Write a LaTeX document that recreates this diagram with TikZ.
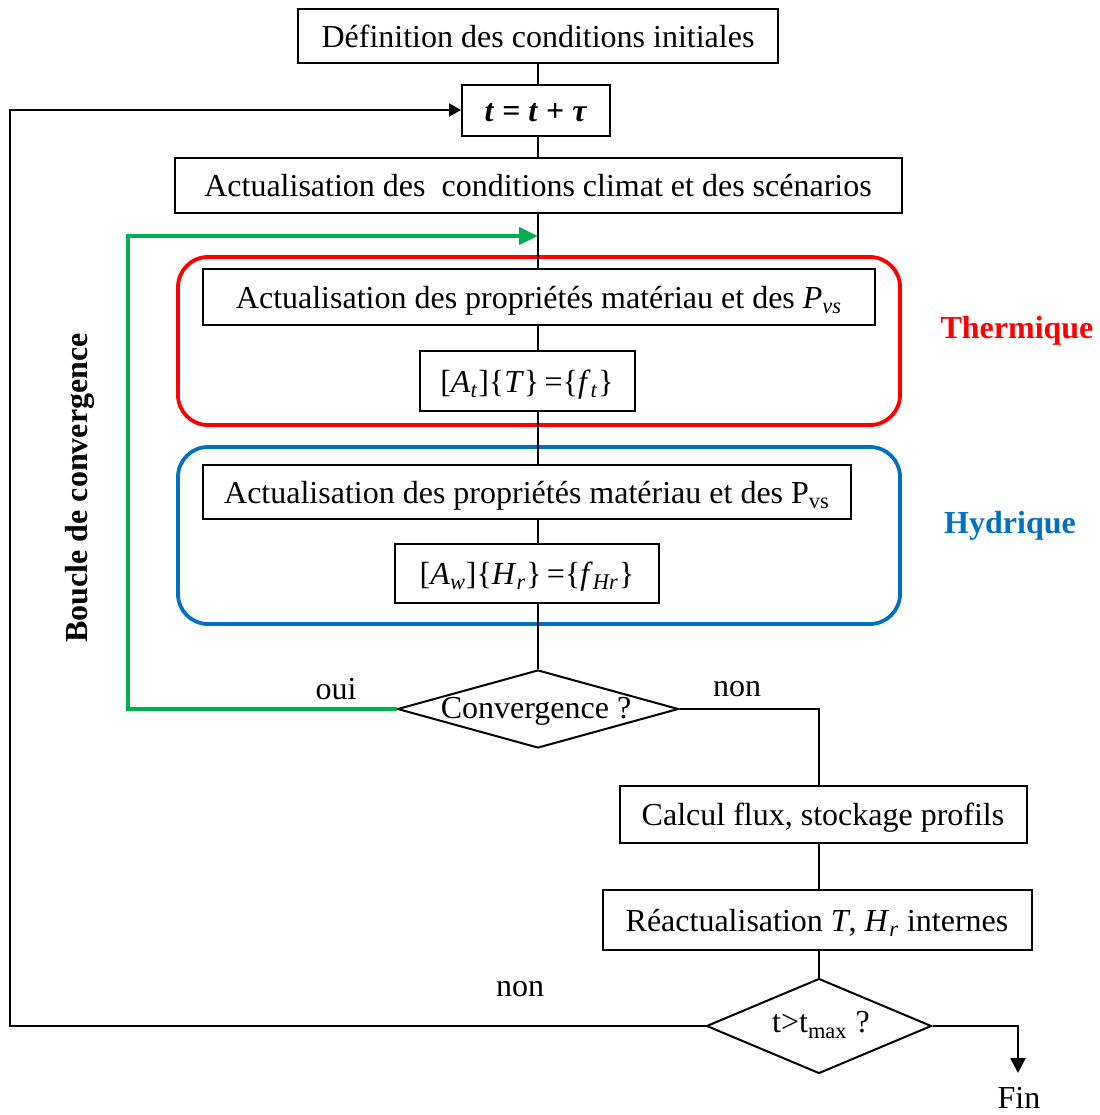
\documentclass[tikz,border=0pt]{standalone}
\usepackage{fontspec}
\setmainfont{Liberation Serif}
\usetikzlibrary{shapes.geometric,arrows.meta}
\definecolor{tred}{RGB}{255,0,0}
\definecolor{tblue}{RGB}{0,112,192}
\definecolor{tgreen}{RGB}{0,176,80}
\begin{document}
\begin{tikzpicture}[x=0.5pt,y=-0.5pt,
  font=\fontsize{16}{19}\selectfont,
  box/.style={draw, line width=1pt, inner sep=0pt, align=center, text height=14.5pt, text depth=3.5pt},
  conn/.style={draw, line width=0.75pt},
  loopline/.style={draw, line width=1.2pt},
  dia/.style={draw, diamond, line width=1pt, inner sep=0pt},
  frame/.style={draw, line width=1.9pt, rounded corners=15pt, inner sep=0pt},
  lbl/.style={inner sep=0pt},
]
\useasboundingbox (0,0) rectangle (1099,1115);
\coordinate (sp) at (538,0);
\coordinate (c8) at (819,0);
\coordinate (gl) at (128,0);
\coordinate (gtip) at (538,236);
\coordinate (rl) at (10,0);
\coordinate (finc) at (1018,1073);

% frames
\node[frame, draw=tred, minimum width=361pt, minimum height=84pt] (frt) at (539,341) {};
\node[frame, draw=tblue, minimum width=361pt, minimum height=88.5pt] (frh) at (539,535.5) {};

% boxes
\node[box, fill=white, minimum width=240pt, minimum height=27pt] (b1) at (538,36) {Définition des conditions initiales};
\node[box, fill=white, minimum width=74pt, minimum height=25.5pt] (bt) at (536,110) {\textbf{\textit{t} = \textit{t} + \textit{τ}}};
\node[box, fill=white, minimum width=363.5pt, minimum height=27.5pt] (b3) at (538,185) {Actualisation des\ \ conditions climat et des scénarios};
\node[box, fill=white, minimum width=336pt, minimum height=28pt] (b4) at (539,297) {Actualisation des propriétés matériau et des \textit{P}\textsubscript{\textit{vs}}};
\node[box, fill=white, minimum width=107.5pt, minimum height=30pt] (b5) at (527,381) {[\textit{A}\textsubscript{\textit{t}}]\{\textit{T}\}\,=\{\textit{f}\textsubscript{\textit{t}}\}};
\node[box, fill=white, minimum width=324pt, minimum height=27pt] (b6) at (527,492) {Actualisation des propriétés matériau et des P\textsubscript{vs}};
\node[box, fill=white, minimum width=132pt, minimum height=29.5pt] (b7) at (527,573) {[\textit{A}\textsubscript{\textit{w}}]\{\textit{H}\textsubscript{\textit{r}}\}\,=\{\textit{f}\textsubscript{\textit{Hr}}\}};
\node[dia, minimum width=140.5pt, minimum height=39pt] (d1) at (538,709) {};
\node[lbl] (d1t) at (536,711) {Convergence ?};
\node[box, minimum width=203.5pt, minimum height=28.5pt] (b8) at (823,814) {Calcul flux, stockage profils};
\node[box, minimum width=214.5pt, minimum height=30pt] (b9) at (817,920) {Réactualisation \textit{T}, \textit{H}\textsubscript{\textit{r}} internes};
\node[dia, minimum width=112.5pt, minimum height=47.5pt] (d2) at (819,1026) {};
\node[lbl] (d2t) at (821,1025) {t>t\textsubscript{max} ?};

% labels
\node[lbl] (oui) at (336,689) {oui};
\node[lbl] (non1) at (737,689) {non};
\node[lbl] (non2) at (520,989) {non};
\node[lbl] (fin) at (1019,1098) {Fin};
\node[lbl, text=tred, font=\fontsize{16}{19}\selectfont\bfseries] (th) at (1017,331) {Thermique};
\node[lbl, text=tblue, font=\fontsize{16}{19}\selectfont\bfseries] (hy) at (1010,526) {Hydrique};
\node[lbl, rotate=90, font=\fontsize{16}{19}\selectfont\bfseries] (bc) at (80,488) {Boucle de convergence};

% spine
\draw[conn] (b1.south -| sp) -- (bt.north -| sp);
\draw[conn] (bt.south -| sp) -- (b3.north -| sp);
\draw[conn] (b3.south -| sp) -- (b4.north -| sp);
\draw[conn] (b4.south -| sp) -- (b5.north -| sp);
\draw[conn] (b5.south -| sp) -- (b6.north -| sp);
\draw[conn] (b6.south -| sp) -- (b7.north -| sp);
\draw[conn] (b7.south -| sp) -- (d1.north);
\draw[conn] (d1.east) -| (b8.north -| c8);
\draw[conn] (b8.south -| c8) -- (b9.north -| c8);
\draw[conn] (b9.south -| c8) -- (d2.north);

% green loop
\draw[line width=2.2pt, tgreen, -{Triangle[length=9.5pt,width=8.5pt]}]
  (d1.west) -- (d1.west -| gl) |- (gtip);

% return loop
\draw[loopline, -{Triangle[length=6pt,width=6.5pt]}]
  (d2.west) -- (d2.west -| rl) |- (bt.west);
% end
\draw[loopline, -{Triangle[length=7.5pt,width=7.5pt]}]
  (d2.east) -| (finc);
\end{tikzpicture}
\end{document}
